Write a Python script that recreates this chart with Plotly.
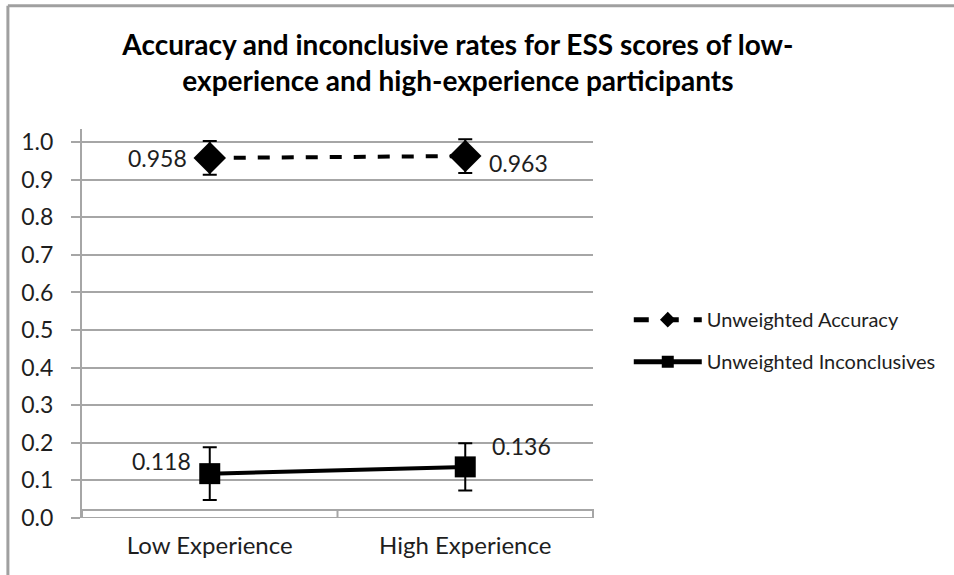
import plotly.graph_objects as go

# data
categories = ["Low Experience", "High Experience"]
accuracy = [0.958, 0.963]
accuracy_err = [0.045, 0.045]
inconclusive = [0.118, 0.136]
inconclusive_err = [0.07, 0.063]
y_ticks = [0.0, 0.1, 0.2, 0.3, 0.4, 0.5, 0.6, 0.7, 0.8, 0.9, 1.0]

FONT = "Lato, Carlito, Calibri, sans-serif"
TEXT = "#1e1e1e"
GRID = "#a6a6a6"

fig = go.Figure()

fig.add_trace(go.Scatter(
    x=categories,
    y=accuracy,
    name="Unweighted Accuracy",
    legendgroup="acc",
    mode="lines+markers",
    line=dict(color="black", width=4, dash="dash"),
    marker=dict(symbol="diamond", size=25, color="black"),
    error_y=dict(type="data", array=accuracy_err, color="black", thickness=2, width=7),
))

fig.add_trace(go.Scatter(
    x=categories,
    y=inconclusive,
    name="Unweighted Inconclusives",
    legendgroup="inc",
    mode="lines+markers",
    line=dict(color="black", width=4),
    marker=dict(symbol="square", size=21, color="black"),
    error_y=dict(type="data", array=inconclusive_err, color="black", thickness=2, width=7),
))

# data labels, nudged around the markers like the original
label_shift = {
    ("acc", 0): (-52, 0), ("acc", 1): (53, -7),
    ("inc", 0): (-48, 13), ("inc", 1): (56, 21),
}
for key, values in (("acc", accuracy), ("inc", inconclusive)):
    for i, v in enumerate(values):
        dx, dy = label_shift[(key, i)]
        fig.add_annotation(
            x=categories[i], y=v, text=f"{v:.3f}", showarrow=False,
            xshift=dx, yshift=dy,
            font=dict(family=FONT, size=23, color=TEXT),
        )

# 3D-style floor under the plot, as in the spreadsheet original
fig.add_shape(type="rect", xref="x domain", yref="y", x0=0, x1=1, y0=0, y1=0.021,
              line=dict(color=GRID, width=2), layer="below")
fig.add_shape(type="line", xref="x domain", yref="y", x0=0.5, x1=0.5, y0=0, y1=0.021,
              line=dict(color=GRID, width=2), layer="below")
# outer chart border (top and left only visible in the crop)
fig.add_shape(type="line", xref="paper", yref="paper", x0=-0.145, x1=1.74, y0=1.317, y1=1.317,
              line=dict(color="#a0a0a0", width=3))
fig.add_shape(type="line", xref="paper", yref="paper", x0=-0.145, x1=-0.145, y0=1.317, y1=-0.15,
              line=dict(color="#a0a0a0", width=3))

fig.update_layout(
    width=954,
    height=575,
    paper_bgcolor="white",
    plot_bgcolor="white",
    margin=dict(l=82, r=361, t=129, b=57),
    font=dict(family=FONT, color=TEXT),
    title=dict(
        text="<b>Accuracy and inconclusive rates for ESS scores of low-<br>experience and high-experience participants</b>",
        x=0.48,
        xanchor="center",
        yref="container",
        y=0.905,
        yanchor="top",
        font=dict(family=FONT, size=28, color="black"),
    ),
    showlegend=True,
    legend=dict(
        x=1.07,
        y=0.56,
        xanchor="left",
        yanchor="top",
        font=dict(family=FONT, size=20, color=TEXT),
        tracegroupgap=13,
        itemwidth=68,
        itemsizing="constant",
        bgcolor="rgba(0,0,0,0)",
    ),
)

fig.update_xaxes(
    range=[-0.5, 1.5],
    showgrid=False,
    showline=False,
    ticks="",
    ticklabelstandoff=11,
    tickfont=dict(family=FONT, size=24, color=TEXT),
    fixedrange=True,
)

fig.update_yaxes(
    range=[0, 1.035],
    tickvals=y_ticks,
    tickformat=".1f",
    showgrid=True,
    gridcolor=GRID,
    gridwidth=2,
    zeroline=False,
    showline=True,
    linecolor=GRID,
    linewidth=2,
    ticks="outside",
    ticklen=9,
    tickcolor=GRID,
    tickwidth=2,
    ticklabelstandoff=13,
    tickfont=dict(family=FONT, size=23, color=TEXT),
    fixedrange=True,
)

# drop the page's default body margin so the figure sits at the window's corner
fig.write_html(
    "out.html",
    config={"displayModeBar": False},
    post_script="document.body.style.margin='0';",
)
